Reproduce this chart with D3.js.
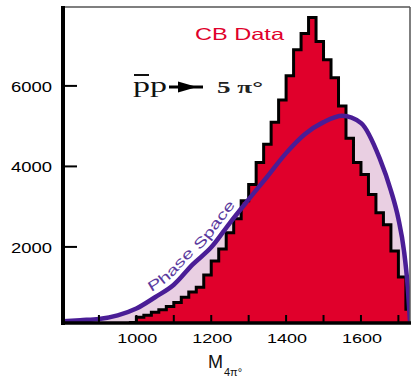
<!DOCTYPE html>
<html>
<head>
<meta charset="utf-8">
<script src="https://cdn.jsdelivr.net/npm/d3@7"></script>
<style>
body{margin:0;background:#fff;}
svg{display:block;}
</style>
</head>
<body>
<svg id="chart" width="412" height="379"></svg>
<script>
// histogram: 20 MeV bins starting at 980
var binStart = 980;
var binWidth = 20;
var cbData = [120, 250, 300, 380, 440, 520, 620, 750, 880, 1000,
	1300, 1650, 1950, 2350, 2700, 3150, 3550, 4100, 4550, 5100,
	5650, 6250, 6900, 7300, 7700, 7100, 6650, 6200, 5500, 4700,
	4100, 3800, 3300, 2850, 2550, 1900, 1250, 450];

// phase space curve
var psMass = [800, 850, 900, 950, 1000, 1050, 1100, 1150, 1200, 1250, 1300, 1350, 1400,
	1450, 1500, 1550, 1600, 1650, 1680, 1700, 1715, 1725, 1731];
var psValue = [150, 180, 210, 300, 470, 750, 1060, 1560, 1990, 2600, 3180, 3750, 4330,
	4800, 5100, 5260, 5080, 4200, 3400, 2700, 1900, 1000, 150];

var xTicks = [900, 1000, 1100, 1200, 1300, 1400, 1500, 1600, 1700];
var xTickLabels = [1000, 1200, 1400, 1600];
var yTicks = [2000, 4000, 6000];

var svg = d3.select('#chart');
var plotLeft = 63, plotRight = 410, plotTop = 7, plotBottom = 323;

var x = d3.scaleLinear().domain([804, 1731]).range([plotLeft, plotRight]);
var y = d3.scaleLinear().domain([110, 7960]).range([plotBottom, plotTop]);

var defs = svg.append('defs');
defs.append('clipPath')
	.attr('id', 'plotClip')
	.append('rect')
	.attr('x', plotLeft).attr('y', plotTop)
	.attr('width', plotRight - plotLeft).attr('height', plotBottom - plotTop);

var plot = svg.append('g').attr('clip-path', 'url(#plotClip)');

var psPoints = [];
for(var i = 0; i < psMass.length; i++)
{
	psPoints.push([psMass[i], psValue[i]]);
}

var histPoints = [];
for(var j = 0; j < cbData.length; j++)
{
	histPoints.push([binStart + j*binWidth, cbData[j]]);
}
histPoints.push([binStart + cbData.length*binWidth, cbData[cbData.length-1]]);

// pink under the phase space curve, later covered by the data
plot.append('path')
	.datum(psPoints)
	.attr('fill', '#e9cfe2')
	.attr('d', d3.area()
		.x(function(d){ return x(d[0]); })
		.y0(y(0))
		.y1(function(d){ return y(d[1]); })
		.curve(d3.curveMonotoneX));

plot.append('path')
	.datum(histPoints)
	.attr('fill', '#e0002b')
	.attr('d', d3.area()
		.x(function(d){ return x(d[0]); })
		.y0(y(0))
		.y1(function(d){ return y(d[1]); })
		.curve(d3.curveStepAfter));

plot.append('path')
	.datum(histPoints)
	.attr('fill', 'none')
	.attr('stroke', '#000')
	.attr('stroke-width', 3)
	.attr('d', d3.line()
		.x(function(d){ return x(d[0]); })
		.y(function(d){ return y(d[1]); })
		.curve(d3.curveStepAfter));

var psPath = plot.append('path')
	.datum(psPoints)
	.attr('fill', 'none')
	.attr('stroke', '#4a1d96')
	.attr('stroke-width', 4.5)
	.attr('d', d3.line()
		.x(function(d){ return x(d[0]); })
		.y(function(d){ return y(d[1]); })
		.curve(d3.curveMonotoneX));

// text path running just above the phase space curve
var node = psPath.node();
var total = node.getTotalLength();
var offsetPts = [];
for(var s = 0; s < total; s += 2)
{
	var p0 = node.getPointAtLength(s);
	var p1 = node.getPointAtLength(Math.min(total, s + 2));
	if(p0.x < 146 || p0.x > 272) continue;
	var tx = p1.x - p0.x, ty = p1.y - p0.y;
	var len = Math.sqrt(tx*tx + ty*ty) || 1;
	offsetPts.push([p0.x + 6.5*ty/len, p0.y - 6.5*tx/len]);
}
defs.append('path')
	.attr('id', 'psTextPath')
	.attr('d', d3.line()(offsetPts));

svg.append('text')
	.attr('font-family', 'Liberation Sans, Arial, sans-serif')
	.attr('font-size', 14)
	.attr('fill', '#5a3a9e')
	.append('textPath')
	.attr('href', '#psTextPath')
	.attr('startOffset', 10)
	.attr('textLength', 122)
	.attr('lengthAdjust', 'spacingAndGlyphs')
	.text('Phase Space');

// frame
svg.append('line')
	.attr('x1', plotLeft).attr('x2', plotRight).attr('y1', plotTop).attr('y2', plotTop)
	.attr('stroke', '#555').attr('stroke-width', 1.5);
svg.append('line')
	.attr('x1', plotRight).attr('x2', plotRight).attr('y1', plotTop).attr('y2', plotBottom)
	.attr('stroke', '#555').attr('stroke-width', 1.5);

svg.selectAll('line.xtick')
	.data(xTicks).enter()
	.append('line')
	.attr('class', 'xtick')
	.attr('x1', function(d){ return x(d); })
	.attr('x2', function(d){ return x(d); })
	.attr('y1', plotBottom).attr('y2', plotBottom - 8)
	.attr('stroke', '#000').attr('stroke-width', 2);

svg.selectAll('line.ytick')
	.data(yTicks).enter()
	.append('line')
	.attr('class', 'ytick')
	.attr('x1', plotLeft).attr('x2', plotLeft + 14)
	.attr('y1', function(d){ return y(d); })
	.attr('y2', function(d){ return y(d); })
	.attr('stroke', '#000').attr('stroke-width', 2);

svg.append('line')
	.attr('x1', plotLeft).attr('x2', plotLeft).attr('y1', plotTop - 1).attr('y2', plotBottom + 2)
	.attr('stroke', '#000').attr('stroke-width', 4);
svg.append('line')
	.attr('x1', plotLeft - 2).attr('x2', plotRight + 1).attr('y1', plotBottom).attr('y2', plotBottom)
	.attr('stroke', '#000').attr('stroke-width', 3.5);

svg.selectAll('text.ylab')
	.data(yTicks).enter()
	.append('text')
	.attr('class', 'ylab')
	.attr('x', 52)
	.attr('y', function(d){ return y(d) + 6; })
	.attr('text-anchor', 'end')
	.attr('font-family', 'Liberation Sans, Arial, sans-serif')
	.attr('font-size', 14)
	.attr('textLength', 41)
	.attr('lengthAdjust', 'spacingAndGlyphs')
	.text(function(d){ return d; });

svg.selectAll('text.xlab')
	.data(xTickLabels).enter()
	.append('text')
	.attr('class', 'xlab')
	.attr('x', function(d){ return x(d) + 1; })
	.attr('y', 343)
	.attr('text-anchor', 'middle')
	.attr('font-family', 'Liberation Sans, Arial, sans-serif')
	.attr('font-size', 12.5)
	.attr('textLength', 40)
	.attr('lengthAdjust', 'spacingAndGlyphs')
	.text(function(d){ return d; });

// axis title M_4pi0
var title = svg.append('text')
	.attr('x', 208).attr('y', 368)
	.attr('font-family', 'Liberation Sans, Arial, sans-serif')
	.attr('fill', '#111');
title.append('tspan').attr('font-size', 18).text('M');
title.append('tspan').attr('font-size', 11).attr('dx', 1).attr('dy', 8).text('4π°');

svg.append('text')
	.attr('x', 195).attr('y', 40)
	.attr('font-family', 'Liberation Sans, Arial, sans-serif')
	.attr('font-size', 16.5)
	.attr('fill', '#e0002b')
	.attr('textLength', 89)
	.attr('lengthAdjust', 'spacingAndGlyphs')
	.text('CB Data');

// reaction label
svg.append('text')
	.attr('x', 133).attr('y', 92)
	.attr('font-family', 'Liberation Serif, Times New Roman, serif')
	.attr('font-size', 22)
	.attr('fill', '#111')
	.attr('textLength', 34)
	.attr('lengthAdjust', 'spacingAndGlyphs')
	.text('pp');
svg.append('line')
	.attr('x1', 134).attr('x2', 149).attr('y1', 75).attr('y2', 75)
	.attr('stroke', '#111').attr('stroke-width', 2);
svg.append('line')
	.attr('x1', 169).attr('x2', 203).attr('y1', 87).attr('y2', 87)
	.attr('stroke', '#000').attr('stroke-width', 3);
svg.append('path')
	.attr('d', 'M178,81.5L197,87L178,92.5Z')
	.attr('fill', '#000');
svg.append('text')
	.attr('x', 217).attr('y', 93)
	.attr('font-family', 'Liberation Serif, Times New Roman, serif')
	.attr('font-size', 16)
	.attr('font-weight', 'bold')
	.attr('fill', '#222')
	.attr('textLength', 46)
	.attr('lengthAdjust', 'spacingAndGlyphs')
	.text('5 π°');
</script>
</body>
</html>
